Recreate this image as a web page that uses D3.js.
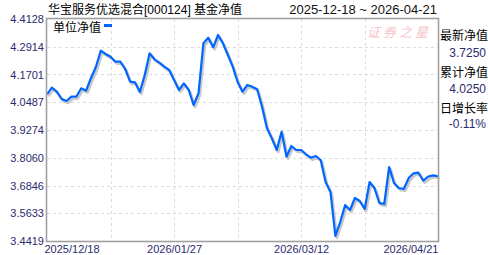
<!DOCTYPE html>
<html>
<head>
<meta charset="utf-8">
<script src="https://cdn.jsdelivr.net/npm/d3@7"></script>
<style>
html,body{margin:0;padding:0;background:#fff;}
svg{display:block;}
</style>
</head>
<body>
<svg id="chart" width="488" height="255"></svg>
<script>
// ---- data ----
const titleText = "华宝服务优选混合[000124] 基金净值";
const rangeText = "2025-12-18 ~ 2026-04-21";
const seriesName = "单位净值";
const navValues = [
  4.0835, 4.1123, 4.0949, 4.0629, 4.0542, 4.0730, 4.0730, 4.1097, 4.0992, 4.1548,
  4.2029, 4.2742, 4.2597, 4.2479, 4.2261, 4.2261, 4.1941, 4.1386, 4.1360, 4.0935,
  4.1679, 4.2628, 4.2366, 4.2217, 4.2042, 4.1898, 4.1460, 4.1023, 4.1316, 4.1023,
  4.0367, 4.0879, 4.3065, 4.3310, 4.2890, 4.3428, 4.3065, 4.2554, 4.2042, 4.1373,
  4.0949, 4.1242, 4.1167, 4.1054, 4.0293, 3.9348, 3.8911, 3.8399, 3.9199, 3.8106,
  3.8574, 3.8399, 3.8399, 3.8211, 3.8062, 3.8136, 3.7961, 3.6999, 3.6562, 3.4638,
  3.5250, 3.5993, 3.5775, 3.6300, 3.6168, 3.5819, 3.6999, 3.6737, 3.6081, 3.6037,
  3.7655, 3.6956, 3.6737, 3.6693, 3.7174, 3.7380, 3.7406, 3.7056, 3.7240, 3.7291,
  3.7250
];
const yTicks = [4.4128, 4.2914, 4.1701, 4.0487, 3.9274, 3.8060, 3.6846, 3.5633, 3.4419];
const xTickIndex = [0, 26, 52, 80];
const xTickLabels = ["2025/12/18", "2026/01/27", "2026/03/12", "2026/04/21"];
const xGridIndex = [13, 26, 39, 52, 65];
const infoLabels = ["最新净值", "累计净值", "日增长率"];
const infoValues = ["3.7250", "4.0250", "-0.11%"];
const watermark = "证券之星";

// ---- layout ----
const L = 47, R = 438, T = 19, B = 241;
const svg = d3.select("#chart");
const x = d3.scaleLinear().domain([0, navValues.length - 1]).range([L, R]);
const y = d3.scaleLinear().domain([yTicks[yTicks.length - 1], yTicks[0]]).range([B, T]);

const latin = "'Liberation Sans', Arial, sans-serif";
const cjk = "'Liberation Sans', 'Noto Sans CJK SC', sans-serif";
const navy = "#2b2b6e";

// grid
svg.append("g").selectAll("line.h").data(yTicks.slice(1, -1)).join("line")
  .attr("x1", L).attr("x2", R)
  .attr("y1", d => Math.round(y(d)) + 0.5).attr("y2", d => Math.round(y(d)) + 0.5)
  .attr("stroke", "#dcdcdc").attr("stroke-dasharray", "3,3");
svg.append("g").selectAll("line.v").data(xGridIndex).join("line")
  .attr("x1", d => Math.round(x(d)) + 0.5).attr("x2", d => Math.round(x(d)) + 0.5)
  .attr("y1", T).attr("y2", B)
  .attr("stroke", "#dcdcdc").attr("stroke-dasharray", "3,3");

// watermark
svg.append("text").attr("x", 367).attr("y", 37)
  .attr("font-family", "'Noto Sans CJK SC', sans-serif").attr("font-size", 13)
  .attr("font-style", "italic").attr("letter-spacing", 3)
  .attr("fill", "#f6c4cc").text(watermark);

// line + shadow
const line = d3.line().x((d, i) => x(i)).y(d => y(d));
svg.append("path").datum(navValues).attr("d", line)
  .attr("transform", "translate(1.5,2)")
  .attr("fill", "none").attr("stroke", "#c8c8c8").attr("stroke-width", 2.6)
  .attr("stroke-linejoin", "round");
svg.append("path").datum(navValues).attr("d", line)
  .attr("fill", "none").attr("stroke", "#0066ff").attr("stroke-width", 2.2)
  .attr("stroke-linejoin", "round");

// frame
svg.append("rect").attr("x", L - 0.5).attr("y", T - 0.5)
  .attr("width", R - L + 1).attr("height", B - T + 1)
  .attr("fill", "none").attr("stroke", "#a0a0a0").attr("stroke-width", 1.6);

// y axis
const yAxis = svg.append("g").attr("transform", `translate(${L},0)`)
  .call(d3.axisLeft(y).tickValues(yTicks).tickSize(0).tickPadding(3)
    .tickFormat(d => d.toFixed(4)));
yAxis.select(".domain").remove();
yAxis.selectAll("text").attr("font-family", latin).attr("font-size", 11).attr("fill", navy);

// x axis
const xAxis = svg.append("g").attr("transform", `translate(0,${B})`)
  .call(d3.axisBottom(x).tickValues(xTickIndex).tickSize(0).tickPadding(4)
    .tickFormat((d, i) => xTickLabels[i]));
xAxis.select(".domain").remove();
xAxis.selectAll("text").attr("font-family", latin).attr("font-size", 11).attr("fill", navy)
  .attr("text-anchor", (d, i) => i === 0 ? "start" : (i === xTickIndex.length - 1 ? "end" : "middle"))
  .attr("dx", (d, i) => i === 0 ? -3 : 0);

// title
svg.append("text").attr("x", 48).attr("y", 14)
  .attr("font-family", cjk).attr("font-size", 12).attr("fill", "#000").text(titleText);
svg.append("text").attr("x", 437).attr("y", 13.5).attr("text-anchor", "end")
  .attr("font-family", latin).attr("font-size", 13).attr("fill", "#111").text(rangeText);

// legend
svg.append("text").attr("x", 53).attr("y", 32)
  .attr("font-family", cjk).attr("font-size", 12).attr("fill", "#000").text(seriesName);
svg.append("rect").attr("x", 104).attr("y", 24).attr("width", 8).attr("height", 3)
  .attr("fill", "#0066ff");

// right info panel
const info = svg.append("g");
infoLabels.forEach((lab, i) => {
  info.append("text").attr("x", 440).attr("y", 40 + i * 36.5)
    .attr("font-family", cjk).attr("font-size", 12).attr("fill", "#000").text(lab);
  info.append("text").attr("x", 486).attr("y", 57 + i * 35.7).attr("text-anchor", "end")
    .attr("font-family", latin).attr("font-size", 12).attr("fill", navy).text(infoValues[i]);
});
</script>
</body>
</html>
